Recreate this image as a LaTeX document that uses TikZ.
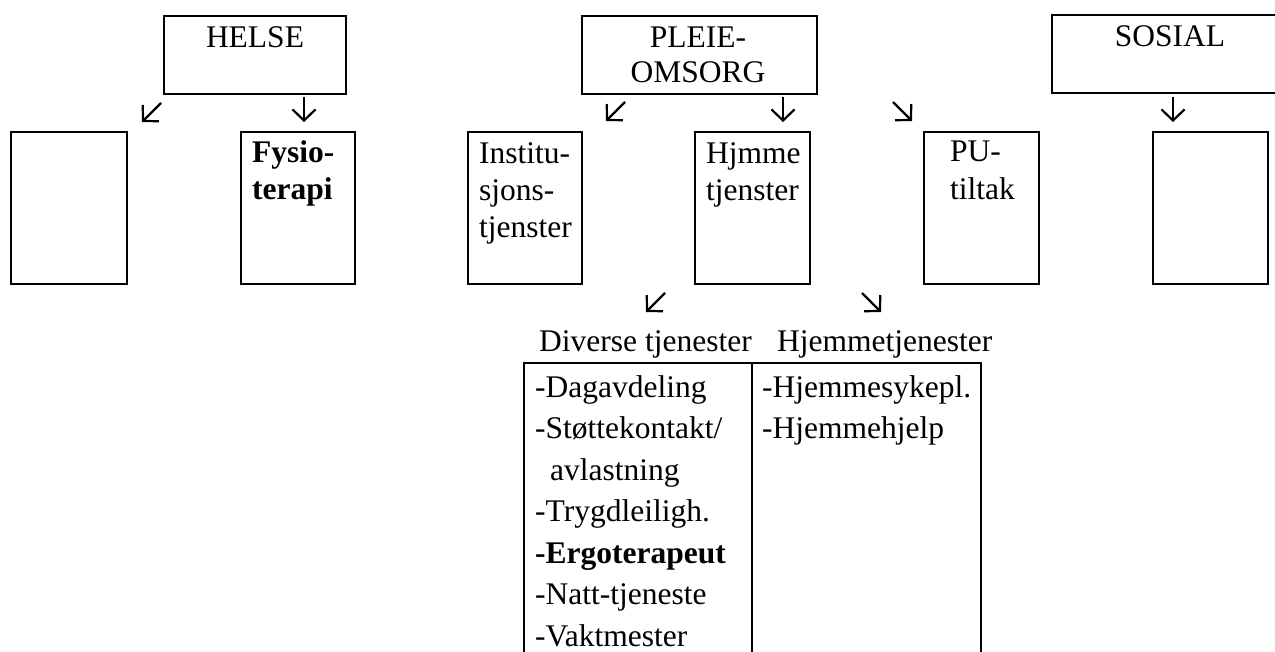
\documentclass[tikz,border=0pt]{standalone}
\usepackage{fontspec}
\setmainfont{Liberation Serif}
\usetikzlibrary{arrows.meta}
\begin{document}
\begin{tikzpicture}[x=1pt,y=-1pt,
  box/.style={draw,line width=1.7pt,inner sep=0pt,anchor=north west},
  lbl/.style={inner sep=0pt,anchor=base west,font=\fontsize{31.5}{37}\selectfont},
  clbl/.style={inner sep=0pt,anchor=base,font=\fontsize{31.5}{37}\selectfont},
  arr/.style={line width=2.2pt,-{Straight Barb[length=11pt,width=23pt,line width=2.2pt]}}]
\useasboundingbox (0,0) rectangle (1275,652);
\clip (0,0) rectangle (1275,652);
% top boxes
\node[box,minimum width=182pt,minimum height=78pt] (helse) at (163,15) {};
\node[box,minimum width=235pt,minimum height=78pt] (pleie) at (581,15) {};
\node[box,minimum width=240pt,minimum height=78pt] (sosial) at (1051,14) {};
% second row
\node[box,minimum width=116pt,minimum height=152pt] (b1) at (10,131) {};
\node[box,minimum width=114pt,minimum height=152pt] (fysio) at (240,131) {};
\node[box,minimum width=114pt,minimum height=152pt] (inst) at (467,131) {};
\node[box,minimum width=115pt,minimum height=152pt] (hjmme) at (694,131) {};
\node[box,minimum width=115pt,minimum height=152pt] (pu) at (923,131) {};
\node[box,minimum width=115pt,minimum height=152pt] (sos2) at (1152,131) {};
% table
\node[box,minimum width=228pt,minimum height=310pt] (tabL) at (523,362) {};
\node[box,minimum width=229pt,minimum height=310pt] (tabR) at (751,362) {};
% labels
\node[clbl] (tHelse) at (255,48) {HELSE};
\node[clbl] (tPleie1) at (698,48) {PLEIE-};
\node[clbl] (tPleie2) at (698,83) {OMSORG};
\node[clbl] (tSosial) at (1170,47) {SOSIAL};
\node[lbl,font=\fontsize{31.5}{37}\selectfont\bfseries] (tF1) at (252,163) {Fysio-};
\node[lbl,font=\fontsize{31.5}{37}\selectfont\bfseries] (tF2) at (252,200) {terapi};
\node[lbl] (tI1) at (479,164) {Institu-};
\node[lbl] (tI2) at (479,201) {sjons-};
\node[lbl] (tI3) at (479,238) {tjenster};
\node[lbl] (tH1) at (706,164) {Hjmme};
\node[lbl] (tH2) at (706,201) {tjenster};
\node[lbl] (tP1) at (950,162) {PU-};
\node[lbl] (tP2) at (950,200) {tiltak};
\node[lbl] (hDiv) at (539,352) {Diverse tjenester};
\node[lbl] (hHjem) at (777,352) {Hjemmetjenester};
\node[lbl] (r1) at (535,397) {-Dagavdeling};
\node[lbl] (r2) at (535,438.5) {-Støttekontakt/};
\node[lbl] (r3) at (550,480) {avlastning};
\node[lbl] (r4) at (535,521.5) {-Trygdleiligh.};
\node[lbl,font=\fontsize{31.5}{37}\selectfont\bfseries] (r5) at (535,563) {-Ergoterapeut};
\node[lbl] (r6) at (535,604.5) {-Natt-tjeneste};
\node[lbl] (r7) at (535,646) {-Vaktmester};
\node[lbl] (s1) at (762,397) {-Hjemmesykepl.};
\node[lbl] (s2) at (762,438.5) {-Hjemmehjelp};
% arrows
\coordinate (a1s) at (161,103); \coordinate (a1e) at (142,122);
\coordinate (a2s) at (304,97);  \coordinate (a2e) at (304,122);
\coordinate (a3s) at (625,102); \coordinate (a3e) at (606,121);
\coordinate (a4s) at (783,97);  \coordinate (a4e) at (783,122);
\coordinate (a5s) at (893,102); \coordinate (a5e) at (912,121);
\coordinate (a6s) at (1173,97); \coordinate (a6e) at (1173,122);
\coordinate (a7s) at (665,293); \coordinate (a7e) at (646,312);
\coordinate (a8s) at (862,293); \coordinate (a8e) at (881,312);
\foreach \i in {1,...,8} {\draw[arr] (a\i s) -- (a\i e);}
\end{tikzpicture}
\end{document}
